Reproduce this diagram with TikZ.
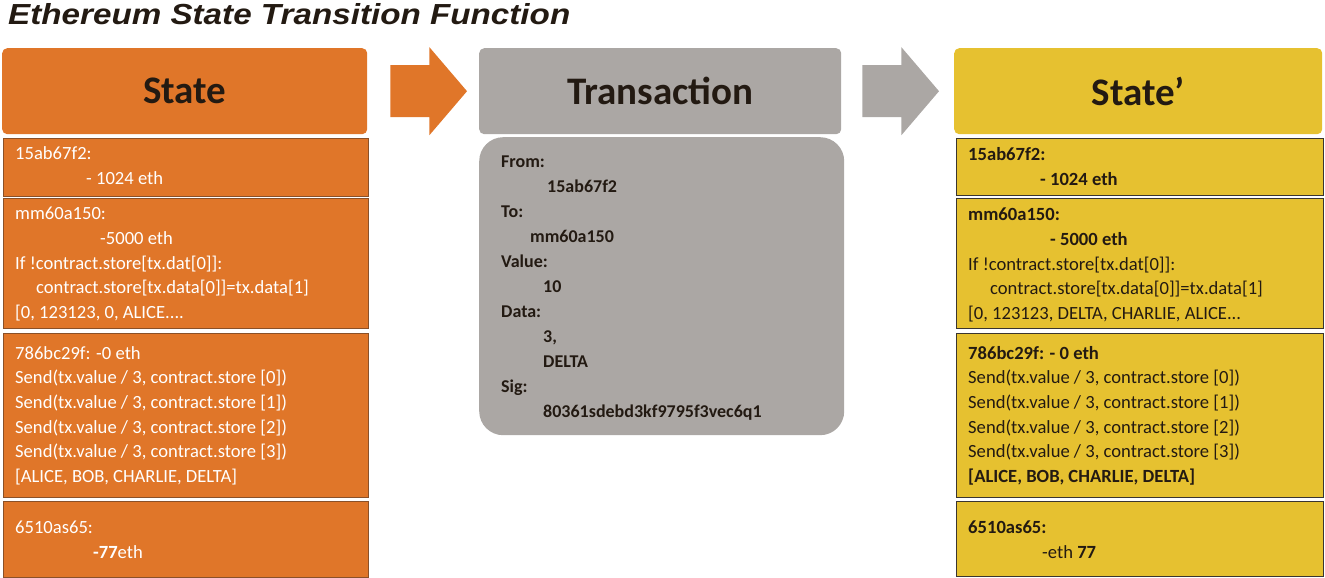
\documentclass[tikz,border=0pt]{standalone}
\usepackage{fontspec}
\setmainfont{Carlito}
\newfontfamily\titlefont{Liberation Sans}
\usetikzlibrary{positioning}

\definecolor{stateorange}{HTML}{E07629}
\definecolor{txgrey}{HTML}{ABA7A4}
\definecolor{newyellow}{HTML}{E6C130}
\definecolor{inkdark}{HTML}{231A12}
\definecolor{cellbrown}{HTML}{8A5028}
\definecolor{cellgrey}{HTML}{3A3530}

\tikzstyle{header}=[rounded corners=5pt,minimum height=86pt,inner sep=0pt,anchor=north west,
  font=\fontsize{39}{44}\selectfont\bfseries,text=inkdark]
\tikzstyle{cell}=[line width=0.9pt,inner sep=0pt,anchor=north west,minimum width=365pt]
% anchor is the baseline of the last line
\tikzstyle{lines}=[align=left,anchor=base west,inner sep=0pt,font=\fontsize{18.6}{24.7}\selectfont]

\begin{document}
\begin{tikzpicture}[x=1pt,y=-1pt]
\useasboundingbox (0,0) rectangle (1325,578);

% title
\node[anchor=base west,inner sep=0pt,font=\titlefont\fontsize{29}{32}\selectfont\bfseries\itshape,text=inkdark]
  (ttl) at (8,25) {\scalebox{1.145}[1]{Ethereum State Transition Function}};

% headers
\node[header,fill=stateorange,minimum width=365pt] (hstate) at (2,48) {State};
\node[header,fill=txgrey,minimum width=362pt] (htx) at (479,48) {Transaction};
\node[header,fill=newyellow,minimum width=368pt] (hnew) at (954,48) {State’};

% block arrows
\fill[stateorange] ([shift={(23,-26)}]hstate.east) -- ++(39,0) -- ++(0,-18)
  -- ([xshift=-12pt]htx.west) -- ([shift={(62,44)}]hstate.east) -- ++(0,-18)
  -- ([shift={(23,26)}]hstate.east) -- cycle;
\fill[txgrey] ([shift={(21,-26)}]htx.east) -- ++(39,0) -- ++(0,-18)
  -- ([xshift=-15pt]hnew.west) -- ([shift={(60,44)}]htx.east) -- ++(0,-18)
  -- ([shift={(21,26)}]htx.east) -- cycle;

% old state
\node[cell,draw=cellbrown,fill=stateorange,minimum height=58pt] (s1) at (3,138) {};
\node[cell,draw=cellbrown,fill=stateorange,minimum height=130pt] (s2) at (3,198) {};
\node[cell,draw=cellbrown,fill=stateorange,minimum height=164pt] (s3) at (3,333) {};
\node[cell,draw=cellbrown,fill=stateorange,minimum height=76pt] (s4) at (3,501) {};

\node[lines,text=white] (s1t) at (15,184) {15ab67f2:\\ \hspace*{71pt}- 1024 eth};
\node[lines,text=white] (s2t) at (15,318.5) {mm60a150:\\ \hspace*{85pt}-5000 eth\\
  If !contract.store[tx.dat[0]]:\\ \hspace*{21pt}contract.store[tx.data[0]]=tx.data[1]\\
  {[}0, 123123, 0, ALICE....};
\node[lines,text=white] (s3t) at (15,482.5) {786bc29f: -0 eth\\
  Send(tx.value / 3, contract.store [0])\\ Send(tx.value / 3, contract.store [1])\\
  Send(tx.value / 3, contract.store [2])\\ Send(tx.value / 3, contract.store [3])\\
  {[}ALICE, BOB, CHARLIE, DELTA]};
\node[lines,text=white] (s4t) at (15,558) {6510as65:\\ \hspace*{78pt}\textbf{-77}eth};

% transaction
\node[anchor=north west,fill=txgrey,rounded corners=24pt,minimum width=365pt,minimum height=298pt,
  inner sep=0pt] (tx) at (479,137) {};
\node[lines,text=inkdark,font=\fontsize{18}{25}\selectfont\bfseries] (txt) at (501,417) {From:\\ \hspace*{46pt}15ab67f2\\ To:\\
  \hspace*{29pt}mm60a150\\ Value:\\ \hspace*{42pt}10\\ Data:\\ \hspace*{42pt}3,\\
  \hspace*{42pt}DELTA\\ Sig:\\ \hspace*{42pt}80361sdebd3kf9795f3vec6q1};

% new state
\node[cell,draw=cellgrey,fill=newyellow,minimum width=367pt,minimum height=57pt] (n1) at (956,138) {};
\node[cell,draw=cellgrey,fill=newyellow,minimum width=367pt,minimum height=130pt] (n2) at (956,198) {};
\node[cell,draw=cellgrey,fill=newyellow,minimum width=367pt,minimum height=164pt] (n3) at (956,333) {};
\node[cell,draw=cellgrey,fill=newyellow,minimum width=367pt,minimum height=75pt] (n4) at (956,501) {};

\node[lines,text=inkdark] (n1t) at (968,185) {\textbf{15ab67f2:}\\ \hspace*{72pt}\textbf{- 1024 eth}};
\node[lines,text=inkdark] (n2t) at (968,319.5) {\textbf{mm60a150:}\\ \hspace*{82pt}\textbf{- 5000 eth}\\
  If !contract.store[tx.dat[0]]:\\ \hspace*{22pt}contract.store[tx.data[0]]=tx.data[1]\\
  {[}0, 123123, DELTA, CHARLIE, ALICE...};
\node[lines,text=inkdark] (n3t) at (968,482.5) {\textbf{786bc29f: - 0 eth}\\
  Send(tx.value / 3, contract.store [0])\\ Send(tx.value / 3, contract.store [1])\\
  Send(tx.value / 3, contract.store [2])\\ Send(tx.value / 3, contract.store [3])\\
  \textbf{[ALICE, BOB, CHARLIE, DELTA]}};
\node[lines,text=inkdark] (n4t) at (968,558) {\textbf{6510as65:}\\ \hspace*{74pt}-eth \textbf{77}};
\end{tikzpicture}
\end{document}
